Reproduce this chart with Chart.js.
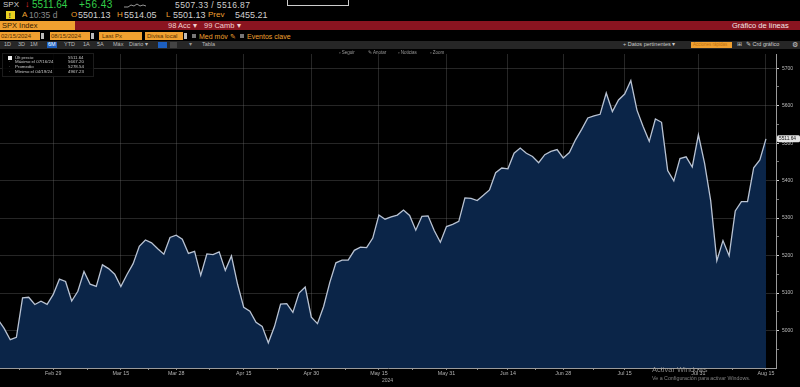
<!DOCTYPE html>
<html><head><meta charset="utf-8">
<script src="https://cdn.jsdelivr.net/npm/chart.js@4.4.1/dist/chart.umd.min.js"></script>
<style>
html,body{margin:0;padding:0;background:#000;}
body{width:800px;height:387px;overflow:hidden;position:relative;font-family:"Liberation Sans",Arial,sans-serif;}
.t{position:absolute;white-space:nowrap;line-height:1;}
.box{position:absolute;}
#c{position:absolute;left:0;top:48px;}
.or{color:#f0a030;}
.gr{color:#cfcfcf;}
.grn{color:#33d04a;}
</style></head><body>
<!-- row 1 -->
<div class="t gr" style="left:3px;top:1px;font-size:8px;">SPX</div>
<div class="t" style="left:25px;top:0px;font-size:9px;color:#e03030;">↓</div>
<div class="t grn" style="left:32px;top:0px;font-size:10px;">5511.64</div>
<div class="t grn" style="left:79px;top:0px;font-size:10px;letter-spacing:0.5px;">+56.43</div>
<svg class="box" style="left:124px;top:2px;" width="22" height="8"><polyline points="0,5 4,5 7,3 10,4 13,2 16,4 19,3 22,4" fill="none" stroke="#bbb" stroke-width="0.8"/></svg>
<div class="t gr" style="left:175px;top:1px;font-size:8.5px;letter-spacing:0.4px;">5507.33 / 5516.87</div>
<div class="box" style="left:287px;top:-3px;width:60px;height:7px;border:1px solid #ccc;"></div>
<!-- row 2 -->
<div class="box" style="left:6px;top:11px;width:9px;height:8px;background:#e8d020;"></div>
<div class="t" style="left:8.5px;top:11.5px;font-size:7px;color:#333;font-weight:bold;">!</div>
<div class="t or" style="left:22px;top:11px;font-size:8px;">A</div>
<div class="t" style="left:29px;top:11px;font-size:8.5px;color:#8a8a8a;">10:35 d</div>
<div class="t or" style="left:71px;top:11px;font-size:8px;">O</div>
<div class="t gr" style="left:78px;top:11px;font-size:9px;">5501.13</div>
<div class="t or" style="left:117px;top:11px;font-size:8px;">H</div>
<div class="t gr" style="left:124px;top:11px;font-size:9px;">5514.05</div>
<div class="t or" style="left:166px;top:11px;font-size:8px;">L</div>
<div class="t gr" style="left:173px;top:11px;font-size:9px;">5501.13</div>
<div class="t or" style="left:208px;top:11px;font-size:8px;">Prev</div>
<div class="t gr" style="left:235px;top:11px;font-size:9px;">5455.21</div>
<!-- row 3 red band -->
<div class="box" style="left:0;top:21px;width:800px;height:9px;background:#8a1420;"></div>
<div class="box" style="left:0;top:21px;width:75px;height:9px;background:#f0a030;"></div>
<div class="t" style="left:2px;top:22px;font-size:7.5px;color:#3a2000;">SPX Index</div>
<div class="t" style="left:168px;top:22px;font-size:7.5px;color:#f2d0d0;">98 Acc ▾</div>
<div class="t" style="left:204px;top:22px;font-size:7.5px;color:#f2d0d0;">99 Camb ▾</div>
<div class="t" style="left:732px;top:22px;font-size:7.5px;color:#f4e6e6;">Gráfico de líneas</div>
<!-- row 4 orange inputs -->
<div class="box" style="left:0;top:32px;width:40px;height:8px;background:#f0a030;"></div>
<div class="t" style="left:1px;top:33px;font-size:6px;color:#5a3000;">02/15/2024</div>
<div class="box" style="left:41px;top:33px;width:3px;height:6px;background:#bbb;"></div>
<div class="box" style="left:50px;top:32px;width:40px;height:8px;background:#f0a030;"></div>
<div class="t" style="left:51px;top:33px;font-size:6px;color:#5a3000;">08/15/2024</div>
<div class="box" style="left:91px;top:33px;width:3px;height:6px;background:#bbb;"></div>
<div class="box" style="left:99px;top:32px;width:43px;height:8px;background:#f0a030;"></div>
<div class="t" style="left:102px;top:33px;font-size:6px;color:#5a3000;">Last Px</div>
<div class="box" style="left:145px;top:32px;width:38px;height:8px;background:#f0a030;"></div>
<div class="t" style="left:147px;top:33px;font-size:6px;color:#5a3000;">Divisa local</div>
<div class="box" style="left:184px;top:33px;width:3px;height:6px;background:#bbb;"></div>
<div class="box" style="left:192px;top:34px;width:4px;height:4px;background:#777;"></div>
<div class="t or" style="left:199px;top:32.5px;font-size:7px;">Med móv ✎</div>
<div class="box" style="left:240px;top:34px;width:4px;height:4px;background:#777;"></div>
<div class="t or" style="left:247px;top:32.5px;font-size:7px;">Eventos clave</div>
<!-- row 5 gray bar -->
<div class="box" style="left:0;top:41px;width:800px;height:8px;background:#262626;"></div>
<div class="t" style="left:4px;top:42px;font-size:5.5px;color:#bbb;">1D</div>
<div class="t" style="left:18px;top:42px;font-size:5.5px;color:#bbb;">3D</div>
<div class="t" style="left:30px;top:42px;font-size:5.5px;color:#bbb;">1M</div>
<div class="box" style="left:47px;top:42px;width:10px;height:6px;background:#1d5fbf;"></div>
<div class="t" style="left:48px;top:42px;font-size:5.5px;color:#fff;">6M</div>
<div class="t" style="left:64px;top:42px;font-size:5.5px;color:#bbb;">YTD</div>
<div class="t" style="left:83px;top:42px;font-size:5.5px;color:#bbb;">1A</div>
<div class="t" style="left:97px;top:42px;font-size:5.5px;color:#bbb;">5A</div>
<div class="t" style="left:113px;top:42px;font-size:5.5px;color:#bbb;">Máx</div>
<div class="t" style="left:129px;top:42px;font-size:5.5px;color:#bbb;">Diario ▾</div>
<div class="box" style="left:158px;top:42px;width:9px;height:6px;background:#1d5fbf;"></div>
<div class="box" style="left:170px;top:42px;width:7px;height:6px;background:#444;"></div>
<div class="t" style="left:189px;top:42px;font-size:5.5px;color:#999;">▾</div>
<div class="t" style="left:202px;top:42px;font-size:5.5px;color:#bbb;">Tabla</div>
<div class="t" style="left:623px;top:42px;font-size:5.5px;color:#ccc;">+ Datos pertinentes ▾</div>
<div class="box" style="left:691px;top:42px;width:41px;height:6px;background:#f0a030;"></div>
<div class="t" style="left:693px;top:42.5px;font-size:4.5px;color:#c07010;">Acciones rápidas</div>
<div class="t" style="left:737px;top:42px;font-size:5.5px;color:#ccc;">⊞</div>
<div class="t" style="left:746px;top:42px;font-size:5.5px;color:#ccc;">✎ Crd gráfico</div>
<div class="t" style="left:792px;top:41.5px;font-size:6.5px;color:#ccc;">⚙</div>

<canvas id="c" width="800" height="339"></canvas>

<!-- row 6 overlay -->
<div class="t" style="left:339px;top:51px;font-size:4.5px;color:#9a9a9a;z-index:3;">▫ Seguir</div>
<div class="t" style="left:368px;top:51px;font-size:4.5px;color:#9a9a9a;z-index:3;">✎ Anotar</div>
<div class="t" style="left:398px;top:51px;font-size:4.5px;color:#9a9a9a;z-index:3;">▫ Noticias</div>
<div class="t" style="left:430px;top:51px;font-size:4.5px;color:#9a9a9a;z-index:3;">▫ Zoom</div>
<!-- legend -->
<div class="box" style="left:2px;top:53px;width:90px;height:22px;background:rgba(0,0,0,0.85);border:1px solid #1c1c1c;z-index:3;"></div>
<div class="box" style="left:8px;top:55.5px;width:4px;height:4px;background:#eee;z-index:4;"></div>
<div id="leg" style="position:absolute;left:0;top:0;z-index:4;"></div>
<!-- bottom -->
<div class="t" style="left:382px;top:378px;font-size:5px;color:#aaa;z-index:3;">2024</div>
<div class="t" style="left:652px;top:366px;font-size:7.5px;color:rgba(170,170,170,0.75);z-index:3;">Activar Windows</div>
<div class="t" style="left:652px;top:376px;font-size:5.3px;color:rgba(170,170,170,0.75);z-index:3;">Ve a Configuración para activar Windows.</div>

<script>
// trading days (2024) and SPX closes
const dates = [
 '02/15','02/16','02/20','02/21','02/22','02/23','02/26','02/27','02/28','02/29',
 '03/01','03/04','03/05','03/06','03/07','03/08','03/11','03/12','03/13','03/14','03/15','03/18','03/19','03/20','03/21','03/22','03/25','03/26','03/27','03/28',
 '04/01','04/02','04/03','04/04','04/05','04/08','04/09','04/10','04/11','04/12','04/15','04/16','04/17','04/18','04/19','04/22','04/23','04/24','04/25','04/26','04/29','04/30',
 '05/01','05/02','05/03','05/06','05/07','05/08','05/09','05/10','05/13','05/14','05/15','05/16','05/17','05/20','05/21','05/22','05/23','05/24','05/28','05/29','05/30','05/31',
 '06/03','06/04','06/05','06/06','06/07','06/10','06/11','06/12','06/13','06/14','06/17','06/18','06/20','06/21','06/24','06/25','06/26','06/27','06/28',
 '07/01','07/02','07/03','07/05','07/08','07/09','07/10','07/11','07/12','07/15','07/16','07/17','07/18','07/19','07/22','07/23','07/24','07/25','07/26','07/29','07/30','07/31',
 '08/01','08/02','08/05','08/06','08/07','08/08','08/09','08/12','08/13','08/14','08/15'
];
const closes = [
 5029.73,5005.57,4975.51,4981.80,5087.03,5088.80,5069.53,5078.18,5069.76,5096.27,
 5137.08,5130.95,5078.65,5104.76,5157.36,5123.69,5117.94,5175.27,5165.31,5150.48,5117.09,5149.42,5178.51,5224.62,5241.53,5234.18,5218.19,5203.58,5248.49,5254.35,
 5243.77,5205.81,5211.49,5147.21,5204.34,5202.39,5209.91,5160.64,5199.06,5123.41,5061.82,5051.41,5022.21,5011.12,4967.23,5010.60,5070.55,5071.63,5048.42,5099.96,5116.17,5035.69,
 5018.39,5064.20,5127.79,5180.74,5187.70,5187.67,5214.08,5222.68,5221.42,5246.68,5308.15,5297.10,5303.27,5308.13,5321.41,5307.01,5267.84,5304.72,5306.04,5266.95,5235.48,5277.51,
 5283.40,5291.34,5354.03,5352.96,5346.99,5360.79,5375.32,5421.03,5433.74,5431.60,5473.23,5487.03,5473.17,5464.62,5447.87,5469.30,5477.90,5482.87,5460.48,
 5475.09,5509.01,5537.02,5567.19,5572.85,5576.98,5633.91,5584.54,5615.35,5631.22,5667.20,5588.27,5544.59,5505.00,5564.41,5555.74,5427.13,5399.22,5459.10,5463.54,5436.44,5522.30,
 5446.68,5346.56,5186.33,5240.03,5199.50,5319.31,5344.16,5344.39,5434.43,5455.21,5511.64
];
const tickDates  = ['02/29','03/15','03/28','04/15','04/30','05/15','05/31','06/14','06/28','07/15','07/31','08/15'];
const tickLabels = ['Feb 29','Mar 15','Mar 28','Apr 15','Apr 30','May 15','May 31','Jun 14','Jun 28','Jul 15','Jul 31','Aug 15'];
const yTickValues = [5000,5100,5200,5300,5400,5500,5600,5700];
const legendNames  = ['Últ precio','Máximo el 07/16/24','Promedio','Mínimo el 04/19/24'];
const legendValues = ['5511.64','5667.20','5278.54','4967.23'];

// legend text
const leg = document.getElementById('leg');
legendNames.forEach((n,i)=>{
  const top = 55.5 + i*4.8;
  leg.insertAdjacentHTML('beforeend',
   `<div class="t" style="left:15px;top:${top}px;font-size:4.4px;color:#c8c8c8;">${n}</div>`+
   `<div class="t" style="left:68px;top:${top}px;font-size:4.4px;color:#c8c8c8;">${legendValues[i]}</div>`+
   (i>0?`<div class="t" style="left:9px;top:${top}px;font-size:4.4px;color:#aaa;">·</div>`:''));
});

const points = dates.map((d,i)=>({x:i,y:closes[i]}));
const majorIdx = tickDates.map(d=>dates.indexOf(d));
const minorIdx = majorIdx.map((v,i)=> i===0 ? v-(majorIdx[1]-v)/2 : (majorIdx[i-1]+v)/2);
const yMinor = [];
for (let v=4950; v<=5700; v+=50) yMinor.push(v);

const priceTag = {
  id:'priceTag',
  afterDraw(chart){
    const c = chart.ctx, ys = chart.scales.y;
    const last = closes[closes.length-1];
    const y = ys.getPixelForValue(last);
    c.save();
    c.fillStyle = '#e4e4e4';
    c.beginPath();
    c.roundRect(777, y-3.5, 23, 7, 1.5);
    c.fill();
    c.fillStyle = '#111';
    c.font = '4.8px "Liberation Sans"';
    c.textBaseline = 'middle';
    c.fillText(last.toFixed(2), 779, y+0.3);
    c.restore();
  }
};

new Chart(document.getElementById('c'), {
  type:'line',
  data:{datasets:[{
    data:points,
    borderColor:'#b9c3d3',
    borderWidth:1.3,
    backgroundColor:'rgb(11,37,72)',
    fill:'start',
    pointRadius:0,
    tension:0
  }]},
  options:{
    responsive:false,
    animation:false,
    events:[],
    layout:{padding:0},
    plugins:{legend:{display:false},tooltip:{enabled:false}},
    scales:{
      x:{
        type:'linear', min:0.33, max:126.63, z:1,
        afterBuildTicks(s){
          s.ticks = majorIdx.concat(minorIdx).sort((a,b)=>a-b).map(v=>({value:v}));
        },
        afterFit(s){ s.height = 19; s.paddingLeft = 0; s.paddingRight = 0; },
        ticks:{
          autoSkip:false, maxRotation:0, padding:0, color:'#b4b4b4',
          font:{size:5.3, family:'"Liberation Sans"'},
          callback:(v)=>{ const k = majorIdx.indexOf(v); return k>=0 ? tickLabels[k] : ''; }
        },
        grid:{
          color:(ctx)=> (ctx.tick && majorIdx.includes(ctx.tick.value)) ? 'rgba(110,110,110,0.34)' : 'rgba(0,0,0,0)',
          tickColor:'#8a8a8a', tickLength:2, lineWidth:1
        },
        border:{color:'#9a9a9a', width:1}
      },
      y:{
        type:'linear', position:'right', min:4900, max:5738, z:1,
        afterBuildTicks(s){ s.ticks = yMinor.map(v=>({value:v})); },
        afterFit(s){ s.width = 24; },
        ticks:{
          autoSkip:false, padding:3, color:'#bdbdbd',
          font:{size:5, family:'"Liberation Sans"'},
          callback:(v)=> yTickValues.includes(v) ? String(v) : ''
        },
        grid:{
          color:(ctx)=> (ctx.tick && yTickValues.includes(ctx.tick.value)) ? 'rgba(110,110,110,0.34)' : 'rgba(0,0,0,0)',
          tickColor:(ctx)=> (ctx.tick && yTickValues.includes(ctx.tick.value)) ? '#d0d0d0' : '#777',
          tickLength:3, lineWidth:1
        },
        border:{color:'#9a9a9a', width:1}
      }
    }
  },
  plugins:[priceTag]
});
</script>
</body></html>
